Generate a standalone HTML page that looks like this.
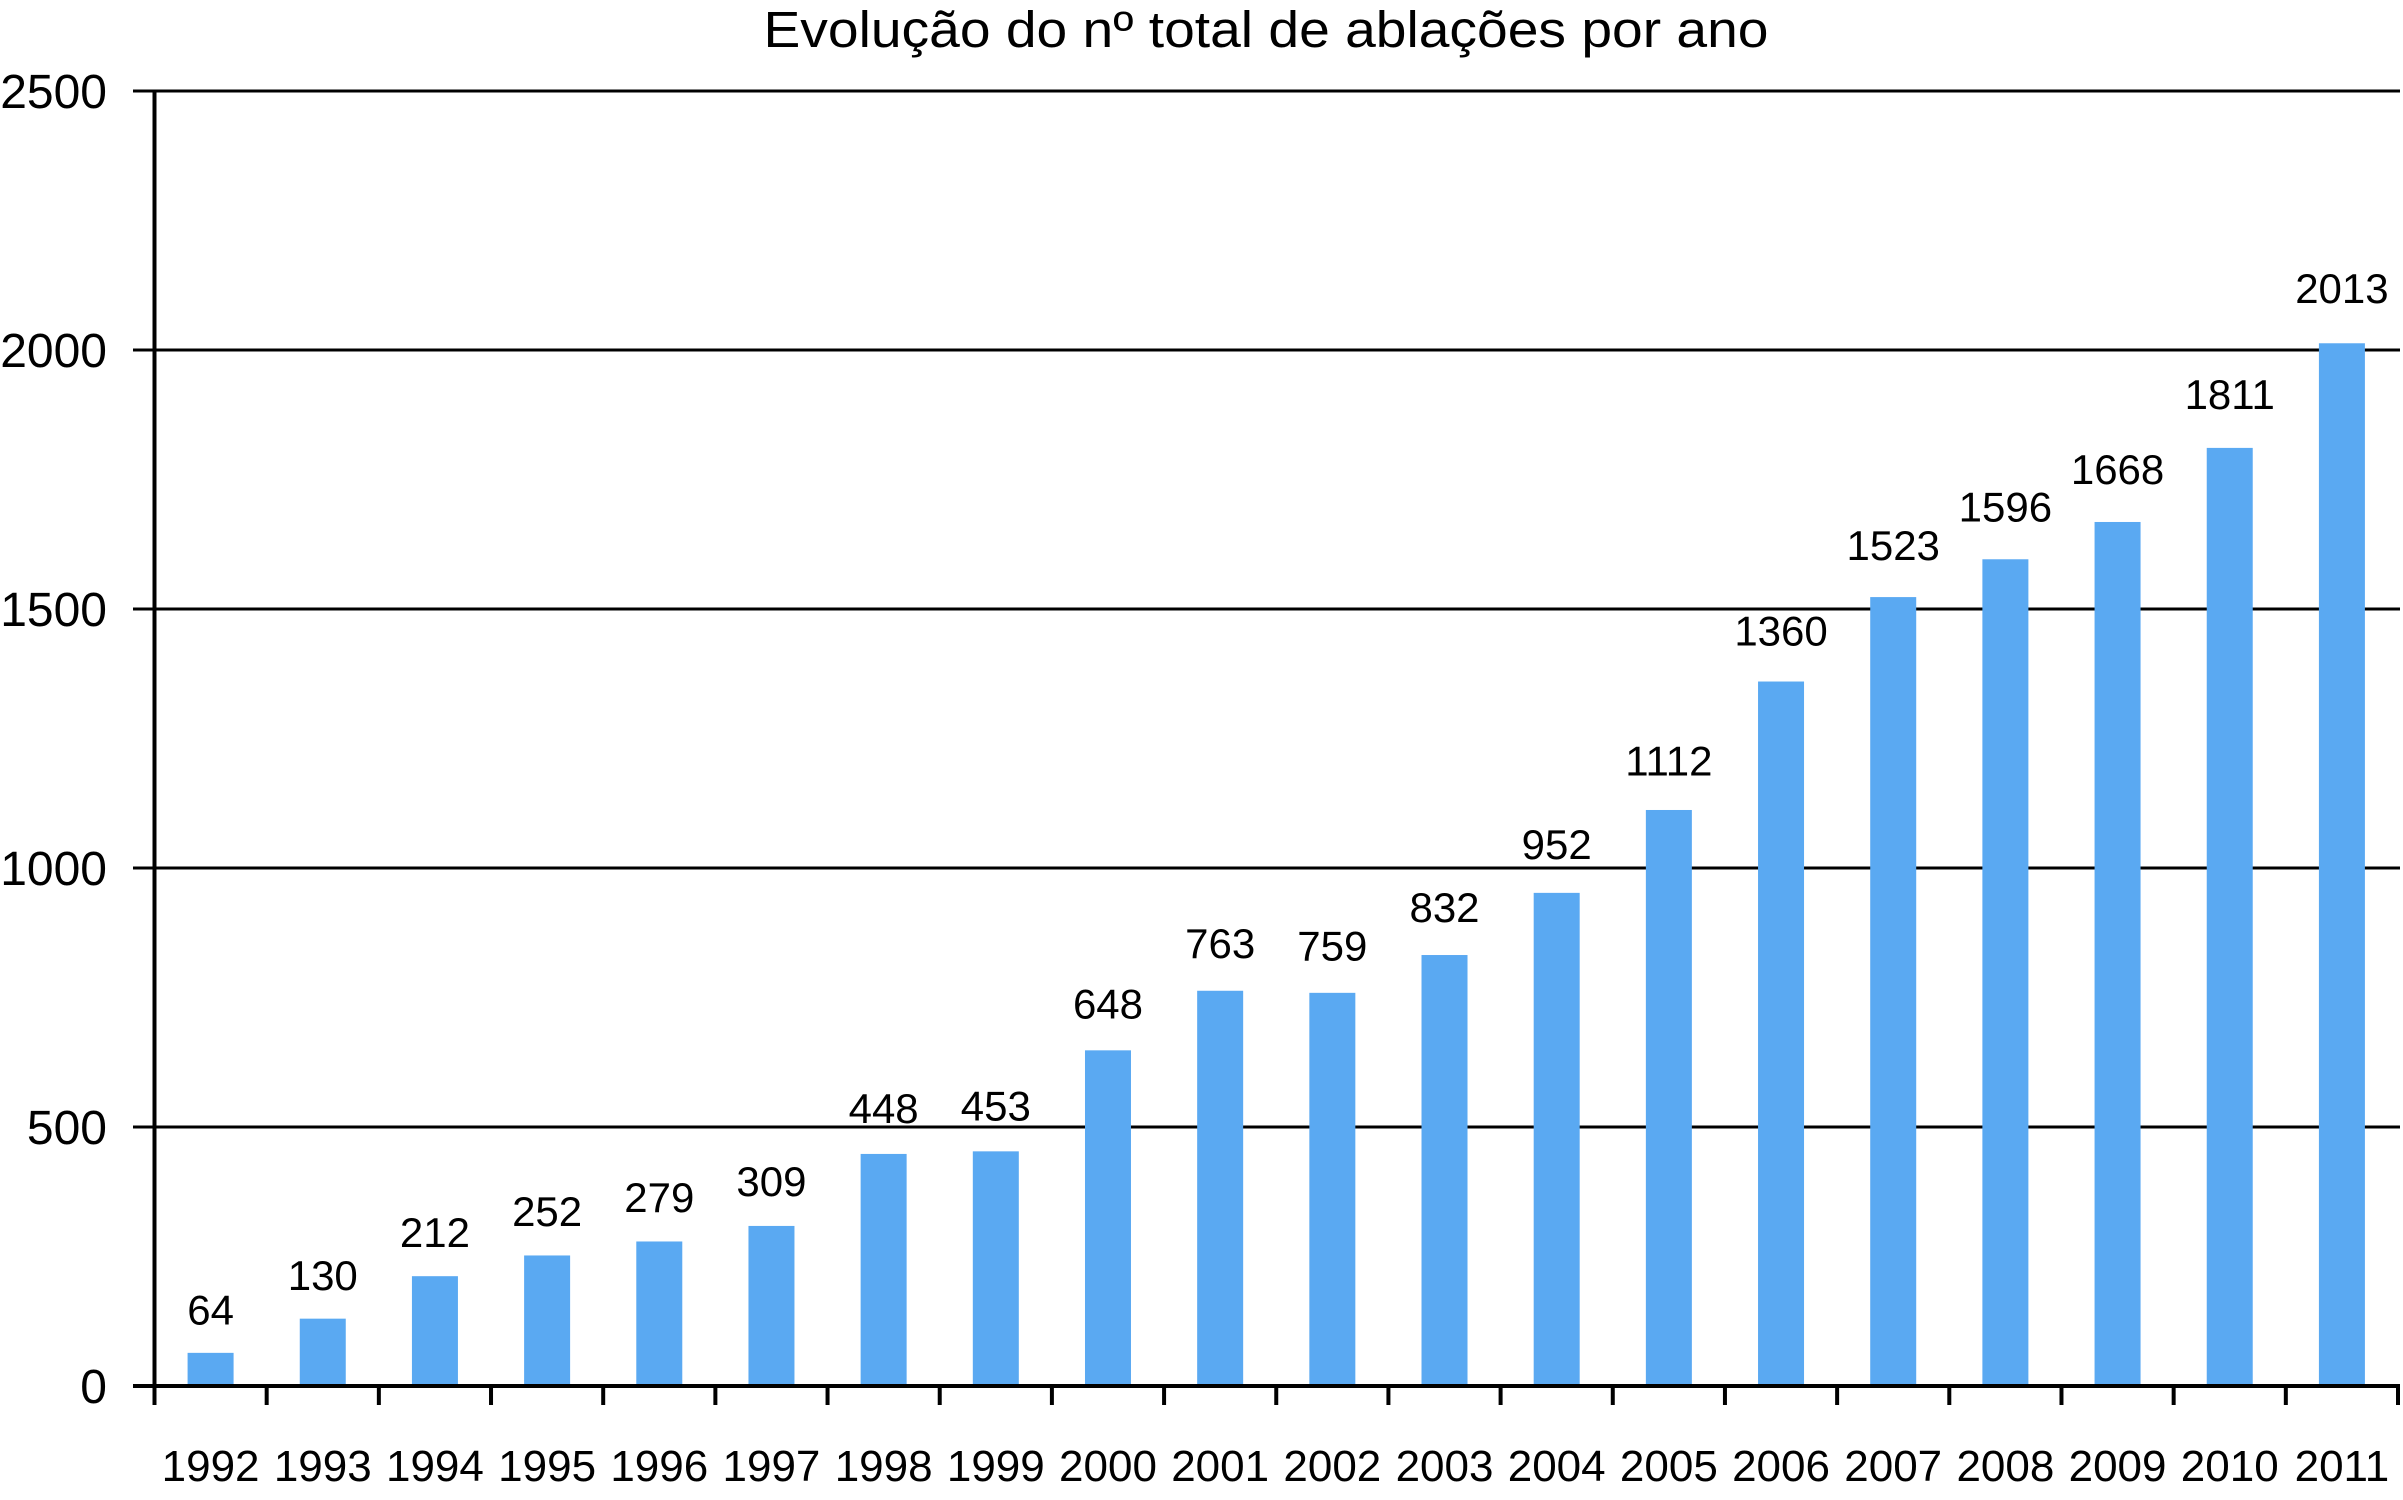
<!DOCTYPE html>
<html><head><meta charset="utf-8"><style>
html,body{margin:0;padding:0;background:#fff;}
svg{display:block;font-family:"Liberation Sans",Arial,sans-serif;}
</style></head><body>
<svg id="chart" width="2403" height="1500" viewBox="0 0 2403 1500" xmlns="http://www.w3.org/2000/svg">
<text x="1266" y="47" font-size="51" text-anchor="middle" textLength="1005" lengthAdjust="spacingAndGlyphs">Evolução do nº total de ablações por ano</text>
<g id="grid"></g>
<g id="bars"></g>
<g id="axes"></g>
</svg>
<script>
const categories = ["1992","1993","1994","1995","1996","1997","1998","1999","2000","2001","2002","2003","2004","2005","2006","2007","2008","2009","2010","2011"];
const values = [64,130,212,252,279,309,448,453,648,763,759,832,952,1112,1360,1523,1596,1668,1811,2013];
const yTicks = [0,500,1000,1500,2000,2500];
const yTickLabels = ["0","500","1000","1500","2000","2500"];

const NS = "http://www.w3.org/2000/svg";
const x0 = 154.5, x1 = 2398, y0 = 1386, yTop = 91, yMax = 2500;
const step = (x1 - x0) / categories.length;
const barW = 46;
function yScale(v){ return y0 - (v / yMax) * (y0 - yTop); }
function labelY(v){ return yScale(v) - 28 - v * 0.006; }
function xCenter(i){ return x0 + step * (i + 0.5); }
function mk(tag, attrs, parent){ const e = document.createElementNS(NS, tag); for (const k in attrs) e.setAttribute(k, attrs[k]); parent.appendChild(e); return e; }

const grid = document.getElementById('grid');
const bars = document.getElementById('bars');
const axes = document.getElementById('axes');

yTicks.forEach((t, i) => {
  const y = yScale(t);
  if (t > 0) {
    const l = mk('line', {x1: 133, x2: 2400, y1: y, y2: y, stroke: '#000', 'stroke-width': 3}, grid);
    
    
  }
  const tx = mk('text', {x: 107, y: y + 17, 'font-size': 48, 'text-anchor': 'end', fill: '#000'}, axes);
  tx.textContent = yTickLabels[i];
  
  
});

categories.forEach((c, i) => {
  const v = values[i];
  const cx = xCenter(i);
  const top = yScale(v);
  const r = mk('rect', {x: cx - barW/2, y: top, width: barW, height: y0 - top, fill: '#5aa9f2'}, bars);
  
  
  const lb = mk('text', {x: cx, y: labelY(v), 'font-size': 42, 'text-anchor': 'middle', fill: '#000'}, bars);
  lb.textContent = String(v);
  
  
  const xl = mk('text', {x: cx, y: 1481, 'font-size': 44, 'text-anchor': 'middle', fill: '#000'}, axes);
  xl.textContent = c;
  
  
});

for (let i = 0; i <= categories.length; i++) {
  const x = x0 + step * i;
  const tk = mk('line', {x1: x, x2: x, y1: y0, y2: 1405, stroke: '#000', 'stroke-width': 4}, axes);
  
  
}
const xa = mk('line', {x1: 133, x2: 2400, y1: y0, y2: y0, stroke: '#000', 'stroke-width': 4}, axes);


const ya = mk('line', {x1: x0, x2: x0, y1: yTop, y2: 1405, stroke: '#000', 'stroke-width': 4}, axes);


</script>
</body></html>
